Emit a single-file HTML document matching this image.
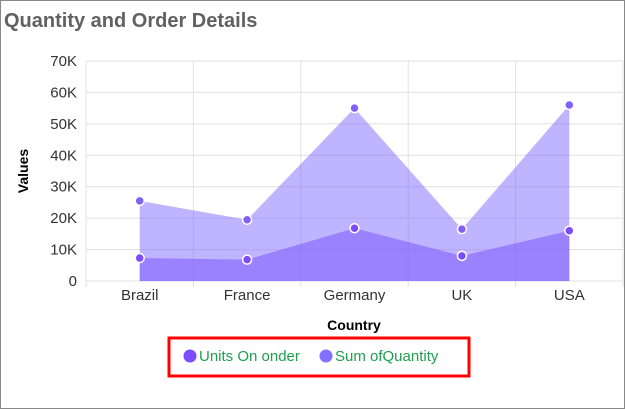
<!DOCTYPE html>
<html><head><style>
body{margin:0;background:#fff;}
#wrap{position:relative;width:623px;height:407px;border:1px solid #888;overflow:hidden;font-family:"Liberation Sans",sans-serif;}
svg text{font-family:"Liberation Sans",sans-serif;}
</style></head><body>
<div id="wrap">
<svg id="chart" width="623" height="407">
<text x="3" y="26" font-size="20" font-weight="bold" fill="#616161">Quantity and Order Details</text>
<g id="grid"></g><g id="areas"></g><g id="axes"></g>
<text transform="translate(27,170) rotate(-90)" text-anchor="middle" font-size="14" font-weight="bold" fill="#000">Values</text>
<text x="353" y="329" text-anchor="middle" font-size="14" font-weight="bold" fill="#000">Country</text>
<rect x="168" y="337" width="300" height="38" fill="none" stroke="#f00" stroke-width="3"/>
<g><circle cx="189" cy="355" r="6.5" fill="#7c4dff"/><text x="198" y="360" font-size="15" fill="#1e9e4e">Units On onder</text></g>
<g><circle cx="325" cy="355" r="6.5" fill="#8470ff"/><text x="334" y="360" font-size="15" fill="#1e9e4e">Sum ofQuantity</text></g>
</svg></div>
<script>
const categories=["Brazil","France","Germany","UK","USA"];
const quantity=[25500,19500,55000,16500,56000];
const unitsOnOrder=[7300,6800,16800,8000,16000];
const yTicks=[0,10000,20000,30000,40000,50000,60000,70000];
const yTickLabels=["0","10K","20K","30K","40K","50K","60K","70K"];
const NS="http://www.w3.org/2000/svg";
const x0=85,x1=622,yb=280,yt=60,ymax=70000;
const band=(x1-x0)/categories.length;
const X=i=>x0+band*(i+0.5);
const Y=v=>yb-(v/ymax)*(yb-yt);
function mk(t,a,p){const e=document.createElementNS(NS,t);for(const k in a)e.setAttribute(k,a[k]);p.appendChild(e);return e;}
const grid=document.getElementById('grid'),axes=document.getElementById('axes'),areas=document.getElementById('areas');
yTicks.forEach((v,i)=>{
 const l=mk('line',{x1:x0,x2:x1,y1:Y(v),y2:Y(v),stroke:'#e0e0e0','stroke-width':1},grid);
 
 
 const t=mk('text',{x:76,y:Y(v)+5,'text-anchor':'end','font-size':15,fill:'#333'},axes);
 t.textContent=yTickLabels[i];
 
 
});
for(let i=0;i<=categories.length;i++){
 const l=mk('line',{x1:x0+band*i,x2:x0+band*i,y1:yt,y2:yb+6,stroke:'#e0e0e0'},grid);
 
 
}
categories.forEach((c,i)=>{
 const t=mk('text',{x:X(i),y:299,'text-anchor':'middle','font-size':15,fill:'#333'},axes);
 t.textContent=c;
 
 
});
function area(vals,fill,name,mfill){
 let d='M'+X(0)+','+yb;
 vals.forEach((v,i)=>d+=' L'+X(i)+','+Y(v));
 d+=' L'+X(vals.length-1)+','+yb+' Z';
 const p=mk('path',{d:d,fill:fill},areas);
 
 
 vals.forEach((v,i)=>{
  const c=mk('circle',{cx:X(i),cy:Y(v),r:4.5,fill:mfill,stroke:'#fff','stroke-width':1.5},areas);
  
  
 });
}
area(quantity,'rgba(132,112,255,0.52)','quantity','#8262f5');
area(unitsOnOrder,'rgba(124,90,255,0.55)','units-on-order','#7c4dff');
</script>
</body></html>
